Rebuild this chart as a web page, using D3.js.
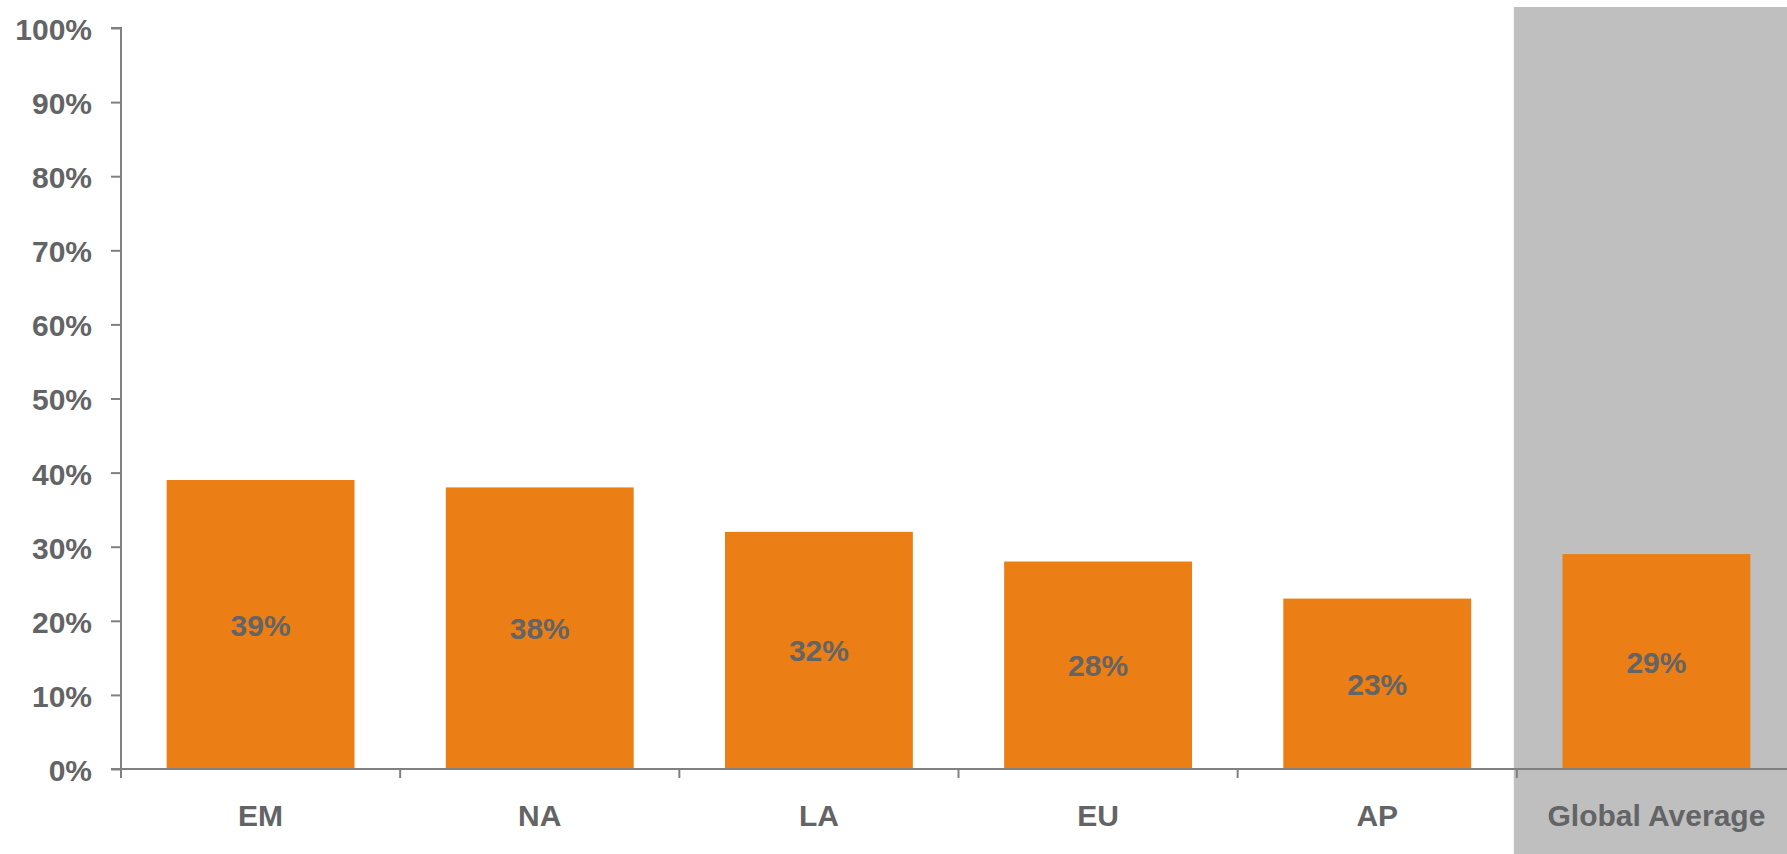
<!DOCTYPE html>
<html>
<head>
<meta charset="utf-8">
<script src="https://cdn.jsdelivr.net/npm/d3@7"></script>
<style>
  body { margin: 0; background: #fff; overflow: hidden; }
  svg { display: block; font-family: "Liberation Sans", Arial, sans-serif; }
</style>
</head>
<body>
<svg id="chart" width="1787" height="854"></svg>
<script>
const categories = ["EM", "NA", "LA", "EU", "AP", "Global Average"];
const values = [0.39, 0.38, 0.32, 0.28, 0.23, 0.29];
const yTicks = [0, 0.1, 0.2, 0.3, 0.4, 0.5, 0.6, 0.7, 0.8, 0.9, 1];
const highlighted = "Global Average";

const svg = d3.select("#chart");
const W = 1787, H = 854;
const plotLeft = 121, plotRight = 1796, plotTop = 28, plotBottom = 769;
const axisColor = "#808080";
const textColor = "#636466";
const fontSize = 30;

const x = d3.scaleBand().domain(categories).range([plotLeft, plotRight]).padding(0);
const y = d3.scaleLinear().domain([0, 1]).range([plotBottom, plotTop]);
const barRatio = 0.673;

// grey highlight panel behind the global average
svg.append("rect")
  .attr("x", x(highlighted) - 3)
  .attr("y", 7)
  .attr("width", W - (x(highlighted) - 3))
  .attr("height", H - 7)
  .attr("fill", "#bfbfbf");

// bars
const bw = x.bandwidth() * barRatio;
svg.append("g").selectAll("rect")
  .data(categories)
  .join("rect")
  .attr("x", d => x(d) + (x.bandwidth() - bw) / 2)
  .attr("y", (d, i) => y(values[i]))
  .attr("width", bw)
  .attr("height", (d, i) => y(0) - y(values[i]))
  .attr("fill", "#eb7f15");

// value labels, centered in bars
svg.append("g").selectAll("text")
  .data(categories)
  .join("text")
  .attr("x", d => x(d) + x.bandwidth() / 2)
  .attr("y", (d, i) => (y(values[i]) + y(0)) / 2 + 11)
  .attr("text-anchor", "middle")
  .attr("font-size", fontSize)
  .attr("font-weight", "bold")
  .attr("fill", textColor)
  .text((d, i) => d3.format(".0%")(values[i]));

// y axis
const yAxis = svg.append("g")
  .attr("transform", `translate(${plotLeft},0)`)
  .call(d3.axisLeft(y).tickValues(yTicks).tickFormat(d3.format(".0%")).tickSize(10).tickPadding(19));
yAxis.select(".domain").attr("stroke", axisColor).attr("stroke-width", 2).attr("d", `M-10,${plotTop}H0V${plotBottom}H-10`);
yAxis.selectAll(".tick line").attr("stroke", axisColor).attr("stroke-width", 2);
yAxis.selectAll(".tick text")
  .attr("font-size", fontSize)
  .attr("font-weight", "bold")
  .attr("font-family", "Liberation Sans, Arial, sans-serif")
  .attr("dy", "0.38em")
  .attr("fill", textColor);

// x axis line and boundary ticks
const xAxis = svg.append("g");
xAxis.append("line")
  .attr("x1", plotLeft).attr("x2", W)
  .attr("y1", plotBottom).attr("y2", plotBottom)
  .attr("stroke", axisColor).attr("stroke-width", 2);
xAxis.selectAll("line.tick")
  .data(categories)
  .join("line")
  .attr("class", "tick")
  .attr("x1", d => x(d)).attr("x2", d => x(d))
  .attr("y1", plotBottom).attr("y2", plotBottom + 9)
  .attr("stroke", axisColor).attr("stroke-width", 2);
xAxis.selectAll("text")
  .data(categories)
  .join("text")
  .attr("x", d => x(d) + x.bandwidth() / 2)
  .attr("y", 826)
  .attr("text-anchor", "middle")
  .attr("font-size", fontSize)
  .attr("font-weight", "bold")
  .attr("fill", textColor)
  .text(d => d);
</script>
</body>
</html>
